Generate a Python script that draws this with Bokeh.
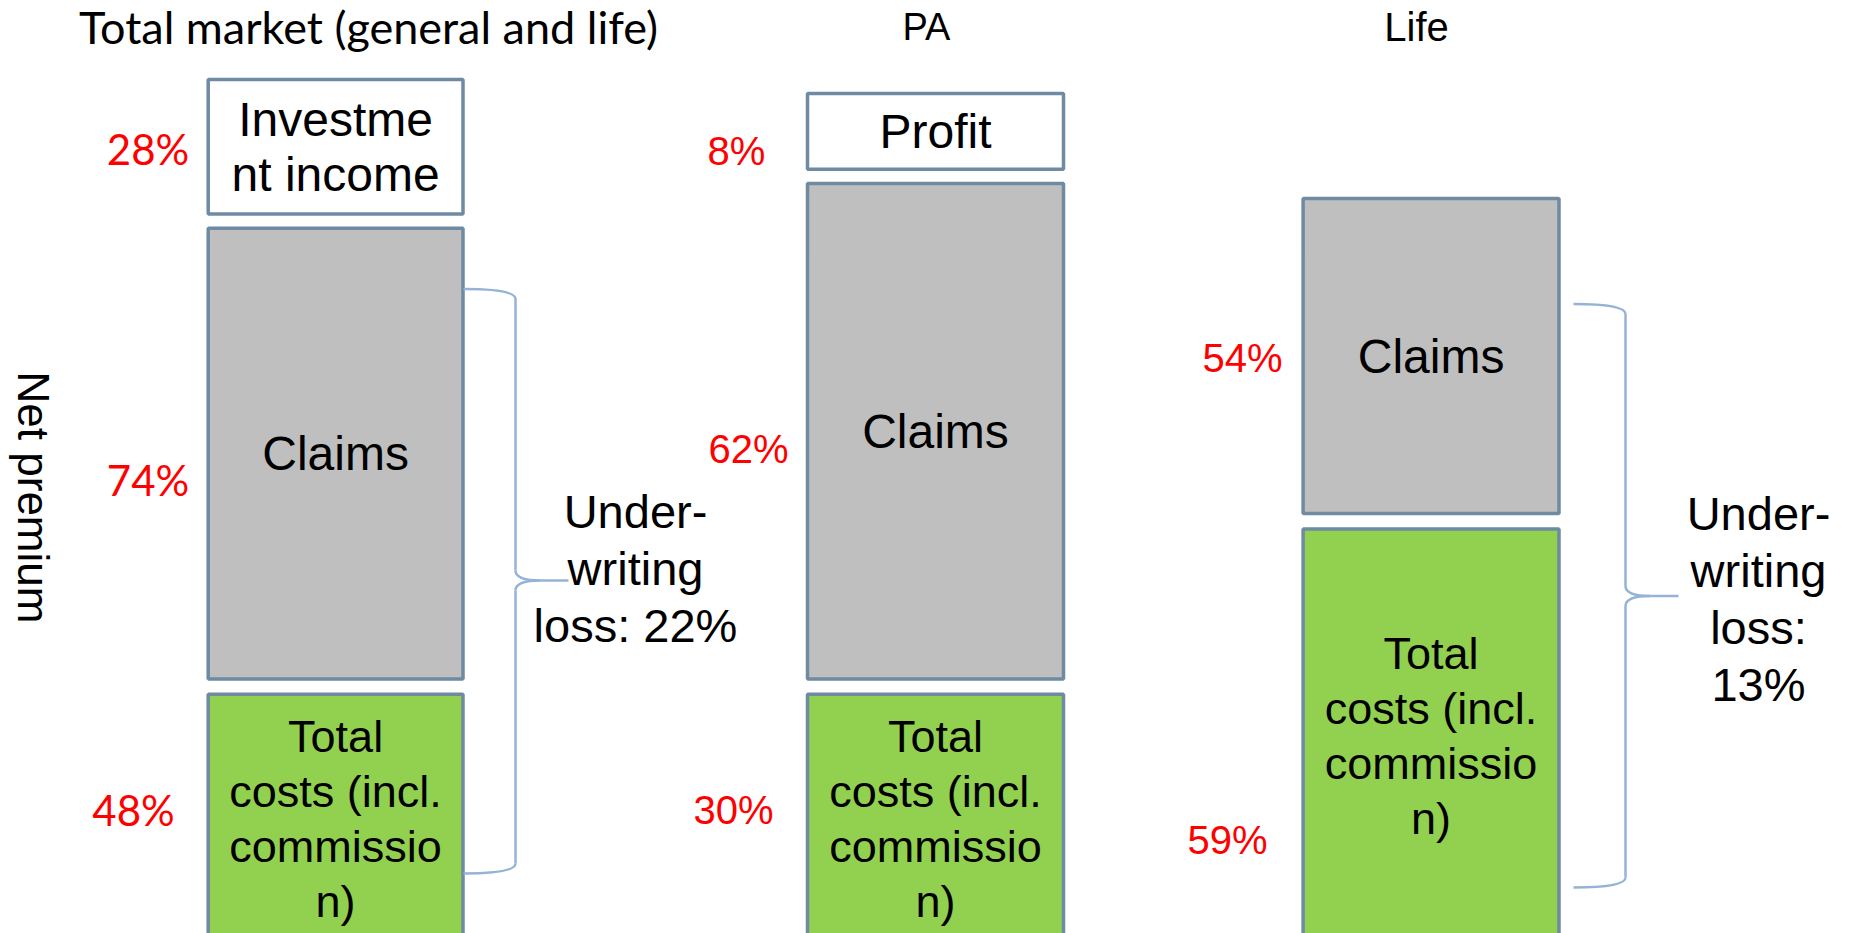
from bokeh.plotting import figure
from bokeh.models import Range1d, ColumnDataSource
from bokeh.core.properties import value
from bokeh.embed import file_html
from bokeh.resources import INLINE
import math

# ---------------- data ----------------
panel_titles = ["Total market (general and life)", "PA", "Life"]
seg_panel = [0, 0, 0, 1, 1, 1, 2, 2]
seg_labels = [
    ["Investme", "nt income"],
    ["Claims"],
    ["Total", "costs (incl.", "commissio", "n)"],
    ["Profit"],
    ["Claims"],
    ["Total", "costs (incl.", "commissio", "n)"],
    ["Claims"],
    ["Total", "costs (incl.", "commissio", "n)"],
]
seg_kind = ["income", "claims", "costs", "income", "claims", "costs", "claims", "costs"]
seg_pct = [28, 74, 48, 8, 62, 30, 54, 59]
uw_panel = [0, 2]
uw_loss = [22, 13]
side_label = "Net premium"

# ---------------- layout (diagram units, y grows downward) ----------------
W, H = 1850, 933
box_left = [207.7, 807.0, 1302.6]
box_right = [462.5, 1063.0, 1558.5]
seg_top = [79.0, 227.7, 693.7, 93.0, 183.0, 693.7, 198.0, 528.6]
seg_bot = [213.6, 678.4, 943.0, 168.7, 678.4, 943.0, 513.0, 943.0]
pct_x = [147.5, 147.5, 133.0, 736.0, 748.0, 733.0, 1242.0, 1227.0]
pct_y = [148.7, 479.0, 809.0, 150.0, 448.0, 809.0, 357.5, 839.0]
title_x = [368.0, 926.0, 1416.0]
title_y = 26.0
title_font = ["Lato", "Liberation Sans", "Liberation Sans"]
title_size = ["45px", "38px", "40px"]
pct_font = ["Lato", "Liberation Sans", "Liberation Sans"]
pct_size = ["42px", "40px", "40px"]
# brace geometry: start x, stem x, tip x, top y, tip y, bottom y
brace_x0 = [463.0, 1573.0]
brace_x1 = [515.0, 1625.0]
brace_x2 = [568.0, 1678.0]
brace_yt = [288.5, 303.5]
brace_ym = [580.0, 595.5]
brace_yb = [873.0, 887.0]
uw_x = [635.0, 1758.0]
uw_y = [568.0, 598.0]
line_gap = 55.0
uw_gap = 57.0

fill_for = {"income": "#FFFFFF", "claims": "#BFBFBF", "costs": "#92D050"}
label_size_for = {"income": "48px", "claims": "48px", "costs": "45px"}
border = "#6F8AA3"
brace_col = "#95B3D7"

p = figure(width=W, height=H, x_range=Range1d(0, W), y_range=Range1d(H, 0),
           output_backend="svg", toolbar_location=None, min_border=0)
p.axis.visible = False
p.grid.visible = False
p.outline_line_color = None
p.background_fill_color = "white"
p.border_fill_color = "white"

# boxes
src = ColumnDataSource(dict(
    left=[box_left[i] for i in seg_panel],
    right=[box_right[i] for i in seg_panel],
    top=seg_top, bottom=seg_bot,
    fill=[fill_for[k] for k in seg_kind],
))
p.quad(left="left", right="right", top="top", bottom="bottom", source=src,
       fill_color="fill", line_color=border, line_width=3.5)

# box labels
for kind in ["income", "claims", "costs"]:
    lx, ly, lt = [], [], []
    for i, lines in enumerate(seg_labels):
        if seg_kind[i] != kind:
            continue
        cx = (box_left[seg_panel[i]] + box_right[seg_panel[i]]) / 2
        cy = (seg_top[i] + seg_bot[i]) / 2
        n = len(lines)
        for j, s in enumerate(lines):
            lx.append(cx)
            ly.append(cy + (j - (n - 1) / 2) * line_gap)
            lt.append(s)
    p.text(x=lx, y=ly, text=lt, text_align="center", text_baseline="middle",
           text_font=value("Liberation Sans"), text_font_size=label_size_for[kind],
           text_color="black")

# red percentages
for pi in range(3):
    idx = [i for i in range(len(seg_pct)) if seg_panel[i] == pi]
    p.text(x=[pct_x[i] for i in idx], y=[pct_y[i] for i in idx],
           text=[f"{seg_pct[i]}%" for i in idx],
           text_align="center", text_baseline="middle",
           text_font=value(pct_font[pi]), text_font_size=pct_size[pi], text_color="#FF0000")

# titles
for pi in range(3):
    p.text(x=[title_x[pi]], y=[title_y], text=[panel_titles[pi]],
           text_align="center", text_baseline="middle",
           text_font=value(title_font[pi]), text_font_size=title_size[pi], text_color="black")

# side label
p.text(x=[33.0], y=[497.0], text=[side_label], angle=-math.pi / 2,
       text_align="center", text_baseline="middle",
       text_font=value("Liberation Sans"), text_font_size="44px", text_color="black")

# braces
r = 10.0
for k in range(len(uw_panel)):
    x0, x1, x2 = brace_x0[k], brace_x1[k], brace_x2[k]
    yt, ym, yb = brace_yt[k], brace_ym[k], brace_yb[k]
    xm = x1 + 25.0
    p.quadratic(x0=[x0, x1, xm, x1], y0=[yt, ym - r, ym, yb - r],
                x1=[x1, xm, x1, x0], y1=[yt + r, ym, ym + r, yb],
                cx=[x1, x1, x1, x1], cy=[yt, ym, ym, yb],
                line_color=brace_col, line_width=2.5)
    p.segment(x0=[x1, x1, xm], y0=[yt + r, ym + r, ym],
              x1=[x1, x1, x2], y1=[ym - r, yb - r, ym],
              line_color=brace_col, line_width=2.5)

# underwriting loss labels
for k in range(len(uw_panel)):
    if uw_panel[k] == 0:
        lines = ["Under-", "writing", f"loss: {uw_loss[k]}%"]
    else:
        lines = ["Under-", "writing", "loss:", f"{uw_loss[k]}%"]
    n = len(lines)
    p.text(x=[uw_x[k]] * n, y=[uw_y[k] + (j - (n - 1) / 2) * uw_gap for j in range(n)],
           text=lines, text_align="center", text_baseline="middle",
           text_font=value("Liberation Sans"), text_font_size="47px", text_color="black")

open("out.html", "w").write(file_html(p, INLINE))
